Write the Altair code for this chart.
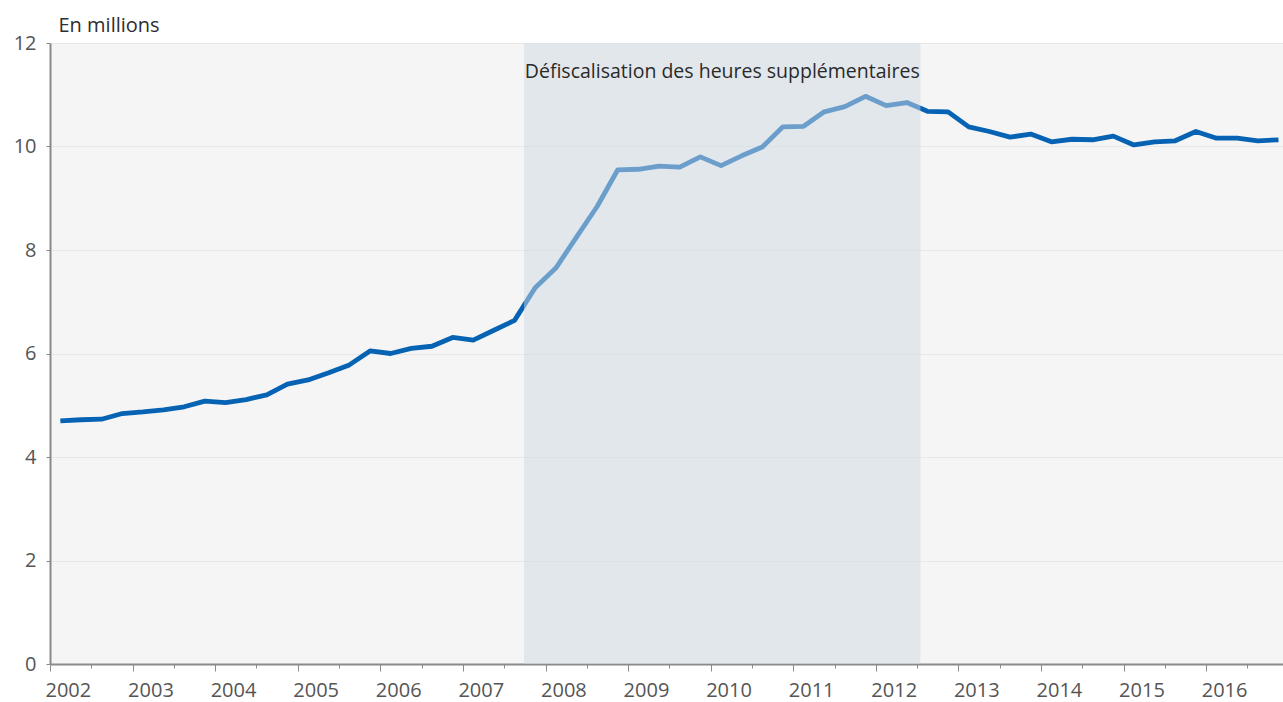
import altair as alt
import pandas as pd

# Quarterly series, 2002Q1 - 2016Q4 (millions)
years = list(range(2002, 2017))
values = [
    4.70, 4.72, 4.73, 4.84,
    4.87, 4.91, 4.97, 5.08,
    5.05, 5.11, 5.20, 5.41,
    5.49, 5.63, 5.78, 6.05,
    6.00, 6.10, 6.14, 6.31,
    6.26, 6.45, 6.64, 7.27,
    7.65, 8.25, 8.84, 9.55,
    9.56, 9.62, 9.60, 9.80,
    9.63, 9.82, 9.99, 10.38,
    10.39, 10.67, 10.77, 10.97,
    10.79, 10.85, 10.68, 10.67,
    10.38, 10.29, 10.18, 10.24,
    10.09, 10.14, 10.13, 10.20,
    10.03, 10.09, 10.11, 10.29,
    10.16, 10.16, 10.11, 10.13,
]
quarters = [1, 2, 3, 4]

shade_start = [2007.74]
shade_end = [2012.54]
shade_label = ["Défiscalisation des heures supplémentaires"]

y_ticks = [0, 2, 4, 6, 8, 10, 12]
x_domain = [2002, 2016.93]

t = [y + (q - 0.5) / 4 for y in years for q in quarters]
df = pd.DataFrame({"t": t, "v": values})
shade_df = pd.DataFrame({"start": shade_start, "end": shade_end, "label": shade_label})
shade_df["mid"] = (shade_df["start"] + shade_df["end"]) / 2

quarter_ticks = [y + q / 4 for y in range(2002, 2017) for q in range(4)]

FONT = "Open Sans"
W, H = 1233, 621

x_scale = alt.Scale(domain=x_domain, nice=False, zero=False)
y_scale = alt.Scale(domain=[0, 12], nice=False)

x_axis = alt.Axis(
    values=quarter_ticks,
    tickSize={"condition": {"test": "datum.value % 1 === 0", "value": 7}, "value": 4},
    labelExpr="datum.value % 1 === 0 ? format(datum.value, 'd') : ''",
    labelAlign="left",
    labelOffset=-5,
    labelPadding=9,
    labelFontSize=20,
    labelColor="#555555",
    labelFont=FONT,
    labelOverlap=False,
    labelFlush=False,
    domainColor="#8a8a8a",
    domainWidth=2,
    tickColor="#8a8a8a",
    tickWidth=1,
    grid=False,
    title=None,
)

y_axis = alt.Axis(
    values=y_ticks,
    tickSize=4,
    tickColor="#8a8a8a",
    domainColor="#8a8a8a",
    domainWidth=2,
    labelFontSize=20,
    labelColor="#555555",
    labelFont=FONT,
    labelPadding=10,
    gridColor="#e8e8e8",
    gridWidth=1,
    title="En millions",
    titleAngle=0,
    titleAlign="left",
    titleBaseline="middle",
    titleX=8,
    titleY=-18,
    titleFontSize=20,
    titleFontWeight="normal",
    titleColor="#2e2e2e",
    titleFont=FONT,
)

line = alt.Chart(df).mark_line(color="#0663b3", strokeWidth=4.8, strokeJoin="round").encode(
    x=alt.X("t:Q", scale=x_scale, axis=x_axis),
    y=alt.Y("v:Q", scale=y_scale, axis=y_axis),
)

shade = alt.Chart(shade_df).mark_rect(color="#d0d9e2", opacity=0.5).encode(
    x=alt.X("start:Q", scale=x_scale),
    x2="end:Q",
    y=alt.value(0),
    y2=alt.value(H),
)

label = alt.Chart(shade_df).mark_text(
    font=FONT, fontSize=19.5, color="#2a2a2a", align="center", baseline="middle"
).encode(
    x=alt.X("mid:Q", scale=x_scale),
    y=alt.value(29),
    text="label:N",
)

chart = alt.layer(line, shade, label).properties(
    width=W,
    height=H,
    autosize=alt.AutoSizeParams(type="none"),
    padding={"left": 50, "top": 43, "right": 0, "bottom": 38},
    background="white",
).configure_view(fill="#f5f5f5", strokeWidth=0)

chart.save("out.html", embed_options={"renderer": "svg", "actions": False})
